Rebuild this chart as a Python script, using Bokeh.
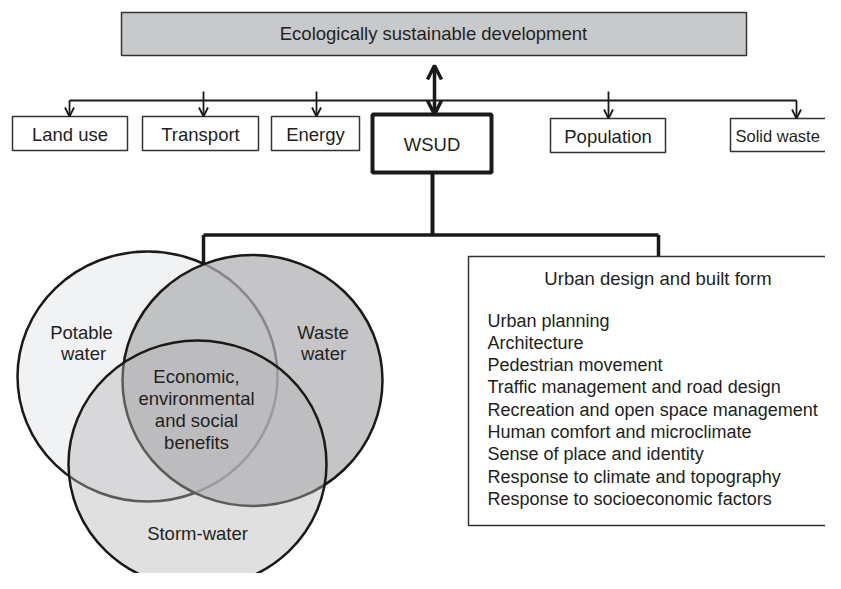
from bokeh.plotting import figure
from bokeh.models import Range1d, Arrow, OpenHead
from bokeh.core.properties import value
from bokeh.embed import file_html
from bokeh.resources import INLINE

# ---------------- data (texts of the diagram) ----------------
top_label = "Ecologically sustainable development"
box_labels = ["Land use", "Transport", "Energy", "WSUD", "Population", "Solid waste"]
venn_labels = ["Potable\nwater", "Waste\nwater", "Storm-water"]
venn_center_label = ["Economic,", "environmental", "and social", "benefits"]
panel_title = "Urban design and built form"
panel_items = [
    "Urban planning",
    "Architecture",
    "Pedestrian movement",
    "Traffic management and road design",
    "Recreation and open space management",
    "Human comfort and microclimate",
    "Sense of place and identity",
    "Response to climate and topography",
    "Response to socioeconomic factors",
]

# ---------------- layout (pixel-like coordinates, y downwards) ----------------
FONT = value("Liberation Sans")
FS = "18.5px"
TXT = "#231f20"
INK = "#1a1a1a"
BOX = "#333333"

box_left = [12, 142, 271, 372, 550, 730]
box_right = [127, 258, 359, 491, 665, 860]
box_top = [116, 116, 116, 114, 118, 118]
box_bottom = [150, 150, 150, 172, 152, 151]
arrow_x = [69, 203, 316, 434, 608, 796]
arrow_y0 = [100, 91, 91, None, 91, 100]

p = figure(width=825, height=573, x_range=Range1d(0, 825), y_range=Range1d(573, 0),
           output_backend="svg", toolbar_location=None, min_border=0,
           x_axis_type=None, y_axis_type=None)
p.grid.visible = False
p.outline_line_color = None
p.background_fill_color = "white"
p.border_fill_color = "white"

# top box
p.quad(left=[121], right=[746], top=[12], bottom=[55], fill_color="#c8c9cb",
       line_color=BOX, line_width=1.5)
p.text(x=[433], y=[33], text=[top_label], text_font=FONT, text_font_size=FS,
       text_color=TXT, text_align="center", text_baseline="middle")

# horizontal distribution line
p.line(x=[arrow_x[0], arrow_x[-1]], y=[100, 100], line_color=INK, line_width=2)

# small boxes
idx_small = [0, 1, 2, 4, 5]
p.quad(left=[box_left[i] for i in idx_small], right=[box_right[i] for i in idx_small],
       top=[box_top[i] for i in idx_small], bottom=[box_bottom[i] for i in idx_small],
       fill_color="white", line_color=BOX, line_width=1.5)
# WSUD box
p.quad(left=[box_left[3]], right=[box_right[3]], top=[box_top[3]], bottom=[box_bottom[3]],
       fill_color="white", line_color=INK, line_width=4)

# small arrows
for i in idx_small:
    p.add_layout(Arrow(x_start=arrow_x[i], y_start=arrow_y0[i], x_end=arrow_x[i], y_end=box_top[i],
                       line_color=INK, line_width=1.8,
                       end=OpenHead(size=9, line_color=INK, line_width=1.8)))
# main double arrow
p.add_layout(Arrow(x_start=434, y_start=114, x_end=434, y_end=65,
                   line_color=INK, line_width=3.5,
                   end=OpenHead(size=14, line_color=INK, line_width=3.5),
                   start=OpenHead(size=14, line_color=INK, line_width=3.5)))

# box texts
center_idx = [0, 1, 2, 3, 4]
p.text(x=[(box_left[i] + box_right[i]) / 2 for i in center_idx],
       y=[(box_top[i] + box_bottom[i]) / 2 + 1 for i in center_idx],
       text=[box_labels[i] for i in center_idx], text_font=FONT, text_font_size=FS,
       text_color=TXT, text_align="center", text_baseline="middle")
p.text(x=[735], y=[135], text=[box_labels[5]], text_font=FONT, text_font_size="16.5px",
       text_color=TXT, text_align="left", text_baseline="middle")

# connectors from WSUD
p.line(x=[432, 432], y=[172, 234.5], line_color=INK, line_width=4)
p.line(x=[203, 658], y=[234.5, 234.5], line_color=INK, line_width=3.5)
p.line(x=[203, 203], y=[234.5, 263], line_color=INK, line_width=3.5)
p.line(x=[658, 658], y=[234.5, 256], line_color=INK, line_width=3.5)

# Venn ellipses
p.ellipse(x=[147], y=[376], width=[260], height=[250], fill_color="#f1f2f4",
          fill_alpha=1.0, line_color=INK, line_width=2.5)
p.ellipse(x=[252], y=[380], width=[260], height=[251], fill_color="#afb0b2",
          fill_alpha=0.73, line_color=INK, line_width=2.5)
p.ellipse(x=[197], y=[463.5], width=[258], height=[247], fill_color="#b4b5b7",
          fill_alpha=0.42, line_color=INK, line_width=2.5)

# Venn labels
pot = venn_labels[0].split("\n")
was = venn_labels[1].split("\n")
p.text(x=[81, 83], y=[331.7, 353.3], text=pot, text_font=FONT, text_font_size=FS,
       text_color=TXT, text_align="center", text_baseline="middle")
p.text(x=[322.5, 323], y=[331.7, 353.3], text=was, text_font=FONT, text_font_size=FS,
       text_color=TXT, text_align="center", text_baseline="middle")
p.text(x=[196] * 4, y=[375.7, 398.3, 420, 441.7], text=venn_center_label, text_font=FONT,
       text_font_size=FS, text_color=TXT, text_align="center", text_baseline="middle")
p.text(x=[197], y=[532.7], text=[venn_labels[2]], text_font=FONT, text_font_size=FS,
       text_color=TXT, text_align="center", text_baseline="middle")

# right panel
p.quad(left=[468], right=[860], top=[256], bottom=[525], fill_color="white",
       line_color=BOX, line_width=1.5)
p.text(x=[657.5], y=[277.7], text=[panel_title], text_font=FONT, text_font_size=FS,
       text_color=TXT, text_align="center", text_baseline="middle")
p.text(x=[487] * len(panel_items), y=[320 + 22.3 * k for k in range(len(panel_items))],
       text=panel_items, text_font=FONT, text_font_size="18px", text_color=TXT,
       text_align="left", text_baseline="middle")

open("out.html", "w").write(file_html(p, INLINE))
